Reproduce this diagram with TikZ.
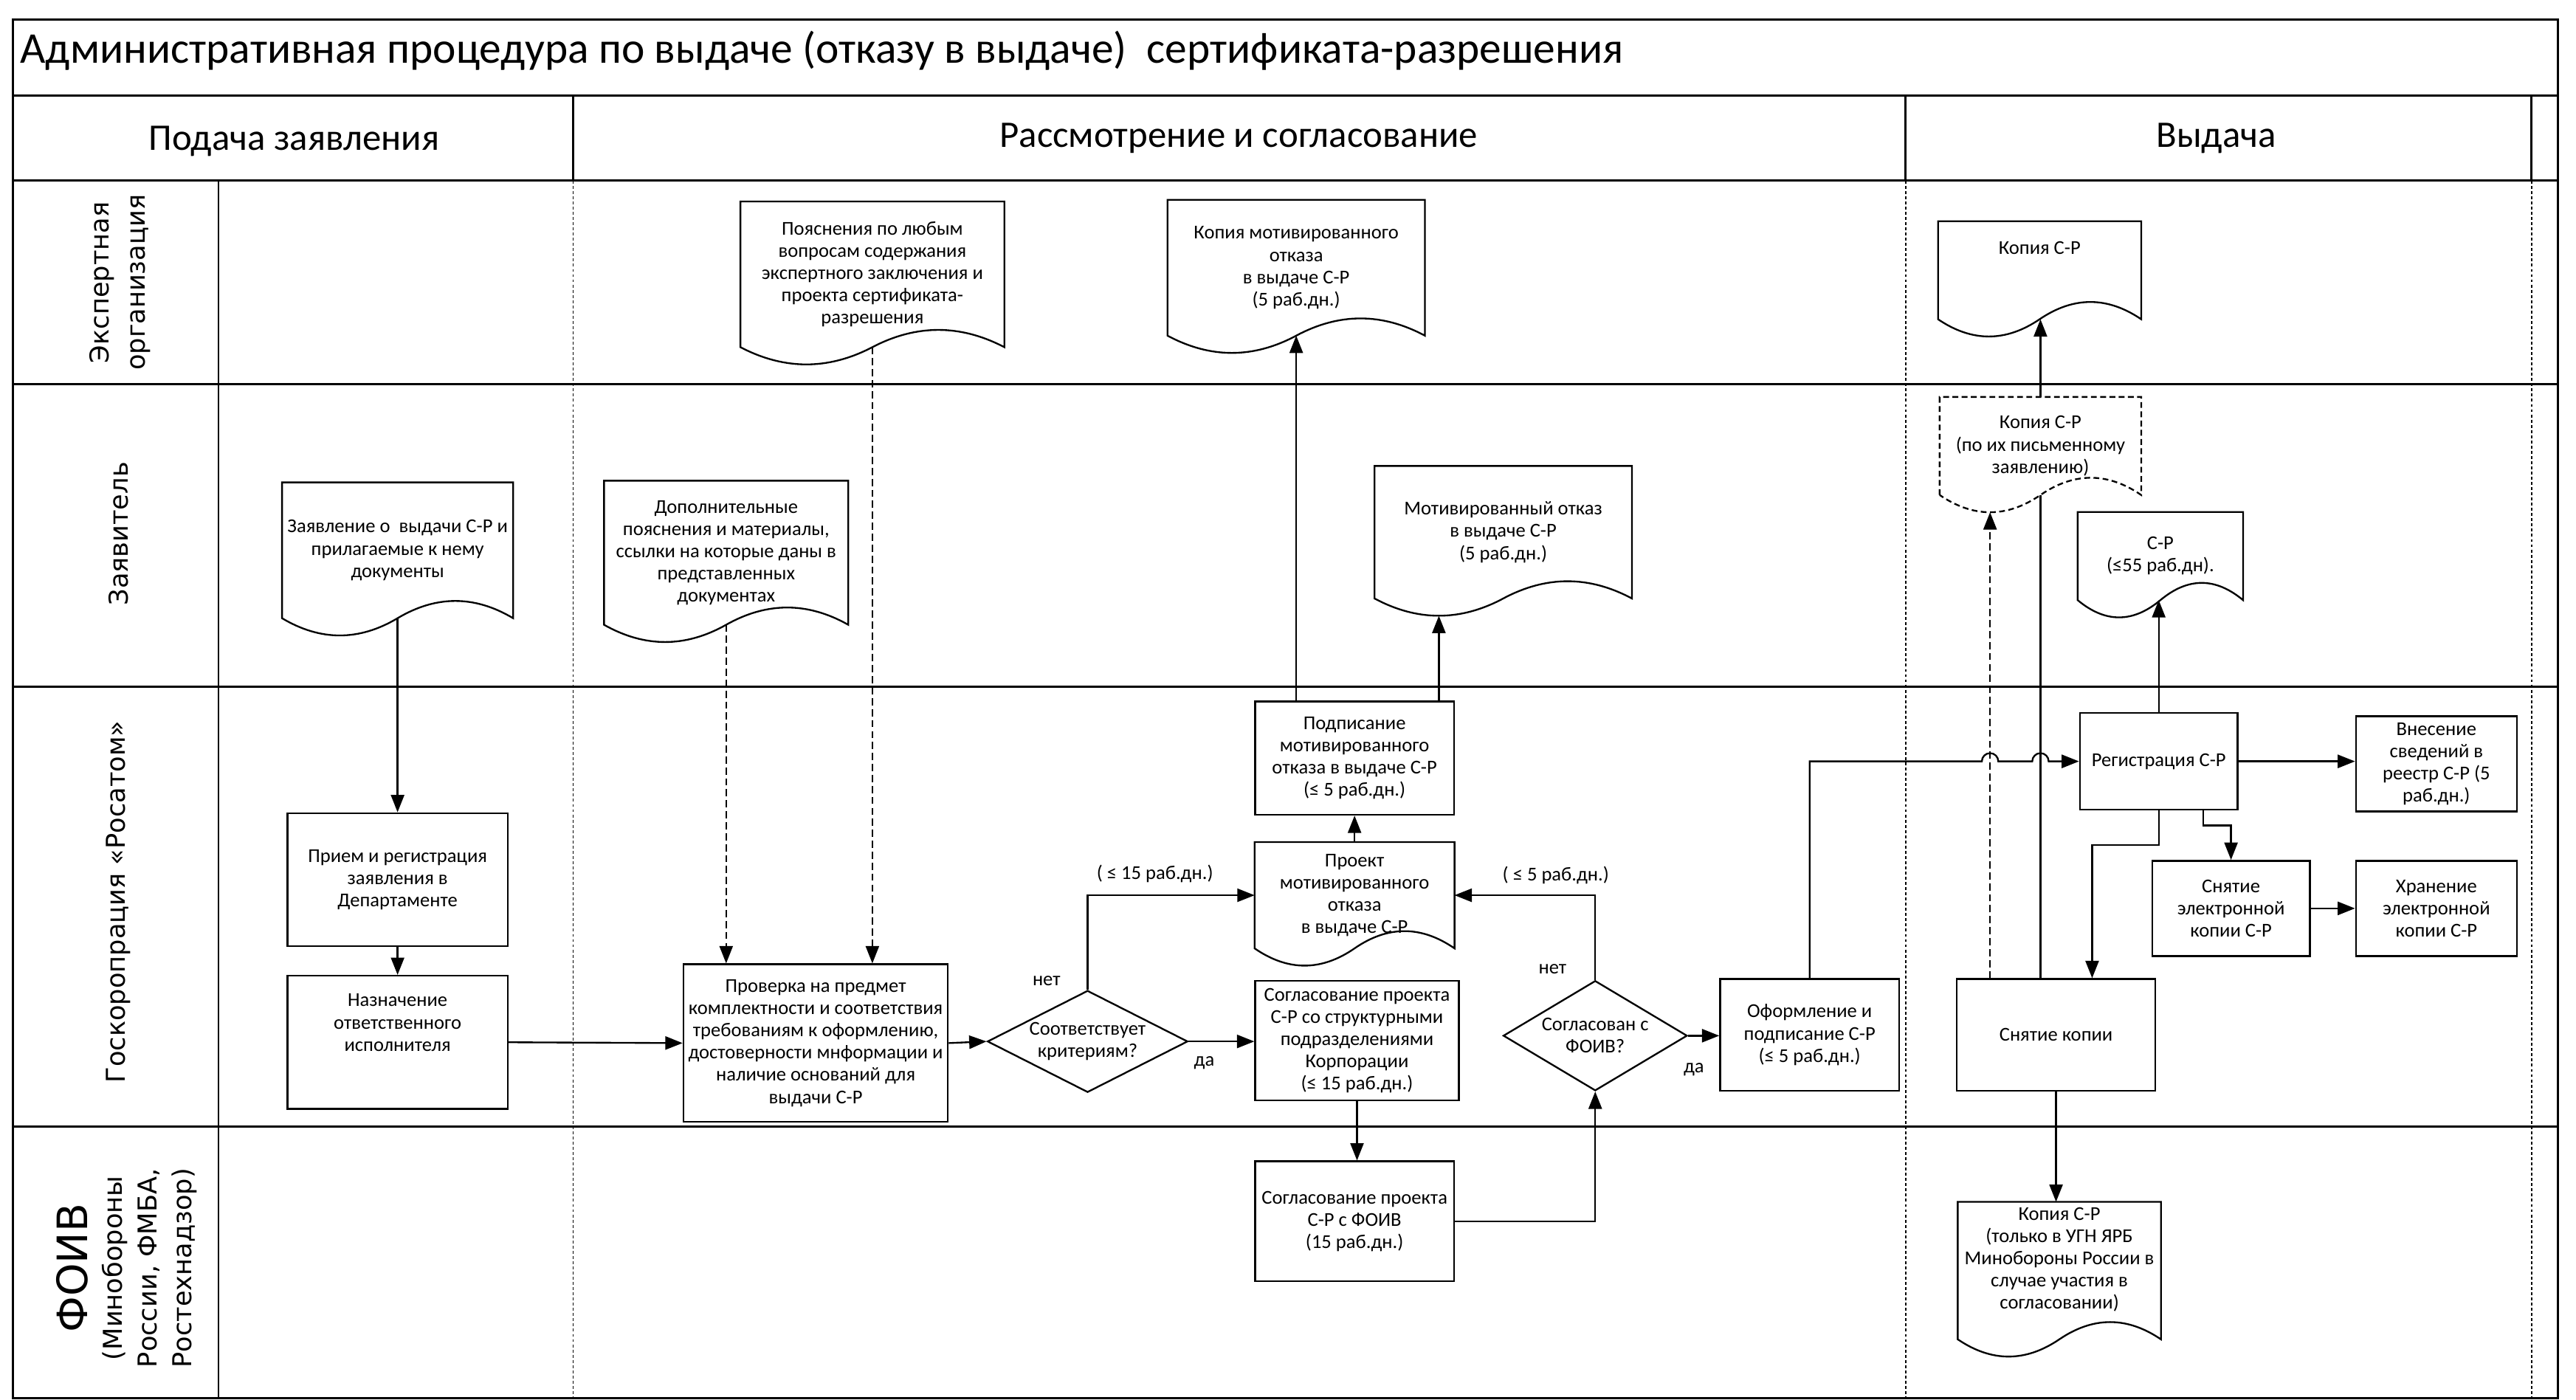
\documentclass[tikz,border=0pt]{standalone}
\usepackage{fontspec}
\setmainfont{Carlito}
\newfontfamily\lanefont{DejaVu Sans}
\usetikzlibrary{arrows.meta, calc, shapes.geometric}

\newcommand{\nodefont}{\fontsize{6.8}{7.7}\selectfont}

\tikzset{
  box/.style = {rectangle, draw, line width=0.6pt, fill=white, align=center, inner sep=1pt, font=\nodefont},
  doc/.style = {rectangle, align=center, inner sep=1pt, font=\nodefont},
  docline/.style = {line width=0.6pt},
  decision/.style = {diamond, draw, line width=0.6pt, align=center, inner sep=-1.5pt, font=\nodefont},
  flow/.style = {line width=0.6pt, -{Triangle[length=6pt,width=4.6pt]}},
  flowd/.style = {flow, dash pattern=on 2.5pt off 1.3pt},
  lbl/.style = {inner sep=0pt, font=\nodefont},
  lane/.style = {line width=0.75pt},
  phase/.style = {line width=0.3pt, dash pattern=on 1pt off 0.8pt},
  lanelabel/.style = {rotate=90, align=center, font=\lanefont\fontsize{9}{12.5}\selectfont},
  head/.style = {inner sep=0pt, font=\fontsize{13}{15}\selectfont},
}

% document shape: outline with a wavy bottom, drawn round a node
\newcommand{\docshape}[2][]{%
  \draw[docline,#1] (#2.south west) -- (#2.north west) -- (#2.north east) -- (#2.south east)
    .. controls ($(#2.south east)!0.1667!(#2.south west)+(0,-14)$) and ($(#2.south east)!0.3333!(#2.south west)+(0,-14)$) .. (#2.south)
    .. controls ($(#2.south east)!0.6667!(#2.south west)+(0,14)$) and ($(#2.south east)!0.8333!(#2.south west)+(0,14)$) .. (#2.south west) -- cycle ;%
}

\begin{document}
\begin{tikzpicture}[x=0.02cm, y=-0.02cm]
        \useasboundingbox (0,0) rectangle (1568,852) ;
        %
        \draw[lane] (8,12) rectangle (1557,851) ; %
        \draw[lane] (8,58) -- (1557,58) ; %
        \foreach \y in {110,234,418,686} \draw[lane] (8,\y) -- (1557,\y) ; %
        \draw[lane] (133,110) -- (133,851) ; %
        \foreach \x in {349,1160,1541} {\draw[lane] (\x,58) -- (\x,110) ; \draw[phase] (\x,110) -- (\x,851) ;} %
        %
        \node[inner sep=0pt, anchor=west, font=\fontsize{15.2}{17}\selectfont] (title) at (12,31) {Административная процедура по выдаче (отказу в выдаче)\ \ сертификата-разрешения} ; %
        \node[head] (h_podacha) at (179,86) {Подача заявления} ; %
        \node[head] (h_rassm) at (754,84) {Рассмотрение и согласование} ; %
        \node[head] (h_vydacha) at (1349,84) {Выдача} ; %
        %
        \node[lanelabel] (l_exp) at (73,172) {Экспертная\\организация} ; %
        \node[lanelabel] (l_zayav) at (72,325) {Заявитель} ; %
        \node[lanelabel] (l_gk) at (72,549) {Госкоропрация «Росатом»} ; %
        \node[lanelabel, font=\lanefont\fontsize{9}{12}\selectfont] (l_foiv) at (77,772) {{\fontsize{14.5}{12}\selectfont ФОИВ}\\(Минобороны\\России, ФМБА,\\Ростехнадзор)} ; %
        %
        \node[doc, minimum width=3.2cm, minimum height=1.76cm] (poyasn) at (531,167) {Пояснения по любым\\вопросам содержания\\экспертного заключения и\\проекта сертификата-\\разрешения} ; %
        \node[doc, minimum width=3.12cm, minimum height=1.64cm] (kopotk) at (789,163) {Копия мотивированного\\отказа\\в выдаче С-Р\\(5 раб.дн.)} ; %
        \node[doc, minimum width=2.46cm, minimum height=1.18cm] (kopiaE) at (1241.5,164.5) {Копия С-Р\\[8pt]} ; %
        \node[doc, minimum width=2.8cm, minimum height=1.64cm] (zayav) at (242,335) {Заявление о\ \ выдачи С-Р и\\прилагаемые к нему\\документы} ; %
        \node[doc, minimum width=2.96cm, minimum height=1.74cm] (dop) at (442,336.5) {Дополнительные\\пояснения и материалы,\\ссылки на которые даны в\\представленных\\документах} ; %
        \node[doc, minimum width=3.12cm, minimum height=1.6cm] (motiv) at (915,324) {Мотивированный отказ\\в выдаче С-Р\\(5 раб.дн.)} ; %
        \node[doc, minimum width=2.44cm, minimum height=1.18cm] (kopiaD) at (1242,271.5) {Копия С-Р\\(по их письменному\\заявлению)} ; %
        \node[doc, minimum width=2.0cm, minimum height=1.06cm] (sr) at (1315,338.5) {С-Р\\(≤55 раб.дн).} ; %
        %
        \node[box, minimum width=2.68cm, minimum height=1.62cm] (priem) at (242,535.5) {Прием и регистрация\\заявления в\\Департаменте} ; %
        \node[box, minimum width=2.68cm, minimum height=1.62cm] (naznach) at (242,634.5) {Назначение\\ответственного\\исполнителя\\[6pt]} ; %
        \node[box, minimum width=3.22cm, minimum height=1.92cm] (prov) at (496.5,635) {Проверка на предмет\\комплектности и соответствия\\требованиям к оформлению,\\достоверности мнформации и\\наличие оснований для\\выдачи С-Р} ; %
        \node[decision, aspect=2, minimum width=2.44cm, minimum height=1.24cm] (crit) at (662,634) {Соответствует\\критериям?} ; %
        \node[box, minimum width=2.48cm, minimum height=1.46cm] (soglstr) at (826,633.5) {Согласование проекта\\С-Р со структурными\\подразделениями\\Корпорации\\(≤ 15 раб.дн.)} ; %
        \node[doc, minimum width=2.42cm, minimum height=1.28cm] (proekt) at (824.5,545) {Проект\\мотивированного\\отказа\\в выдаче С-Р} ; %
        \node[box, minimum width=2.42cm, minimum height=1.38cm] (podp) at (824.5,461.5) {Подписание\\мотивированного\\отказа в выдаче С-Р\\(≤ 5 раб.дн.)} ; %
        \node[decision, aspect=1.67, minimum width=2.24cm, minimum height=1.34cm] (foivq) at (971,630.5) {Согласован с\\ФОИВ?} ; %
        \node[box, minimum width=2.18cm, minimum height=1.36cm] (oform) at (1101.5,630) {Оформление и\\подписание С-Р\\(≤ 5 раб.дн.)} ; %
        \node[box, minimum width=1.92cm, minimum height=1.18cm] (reg) at (1314,463.5) {Регистрация С-Р} ; %
        \node[box, minimum width=1.96cm, minimum height=1.16cm] (vnes) at (1483,465) {Внесение\\сведений в\\реестр С-Р (5\\раб.дн.)} ; %
        \node[box, minimum width=1.92cm, minimum height=1.16cm] (snel) at (1358,553) {Снятие\\электронной\\копии С-Р} ; %
        \node[box, minimum width=1.96cm, minimum height=1.16cm] (hran) at (1483,553) {Хранение\\электронной\\копии С-Р} ; %
        \node[box, minimum width=2.42cm, minimum height=1.36cm] (snyat) at (1251.5,630) {Снятие копии} ; %
        \node[box, minimum width=2.42cm, minimum height=1.46cm] (soglfoiv) at (824.5,743.5) {Согласование проекта\\С-Р с ФОИВ\\(15 раб.дн.)} ; %
        \node[doc, minimum width=2.46cm, minimum height=1.66cm] (kopiaF) at (1253.5,773.5) {Копия С-Р\\(только в УГН ЯРБ\\Минобороны России в\\случае участия в\\согласовании)\\[1pt]} ; %
        %
        \docshape{poyasn} \docshape{kopotk} \docshape{kopiaE} \docshape{zayav} %
        \docshape{dop} \docshape{motiv} \docshape{sr} \docshape{proekt} \docshape{kopiaF} %
        \docshape[dash pattern=on 2pt off 1.2pt]{kopiaD} %
        %
        \coordinate (kd_dip) at ($(kopiaD.south west)!0.25!(kopiaD.south east)+(0,10.5)$) ; %
        \coordinate (md_dip) at ($(motiv.south west)!0.25!(motiv.south east)+(0,10.5)$) ; %
        \coordinate (j_1) at (kd_dip |- reg.west) ; %
        \coordinate (j_2) at (kopiaD.south |- reg.west) ; %
        %
        \node[lbl] (no_1) at (637,597) {нет} ; %
        \node[lbl] (yes_1) at (733,647) {да} ; %
        \node[lbl] (t_15) at (703,532) {( ≤ 15 раб.дн.)} ; %
        \node[lbl] (no_2) at (945,590) {нет} ; %
        \node[lbl] (t_5) at (947,533) {( ≤ 5 раб.дн.)} ; %
        \node[lbl] (yes_2) at (1031,651) {да} ; %
        %
        \draw[flow] (zayav.south) -- (priem.north) ; %
        \draw[flow] (priem.south) -- (naznach.north) ; %
        \draw[flow] (naznach.east) -- (prov.west) ; %
        \draw[flowd] (dop.south) -- (dop.south |- prov.north) ; %
        \draw[flowd] (poyasn.south) -- (poyasn.south |- prov.north) ; %
        \draw[flow] (prov.east) -- (crit.west) ; %
        \draw[flow] (crit.east) -- (crit.east -| soglstr.west) ; %
        \draw[flow] (crit.north) |- (proekt.west) ; %
        \draw[flow] (proekt.north) -- (podp.south) ; %
        \draw[flow] (kopotk.south |- podp.north) -- (kopotk.south) ; %
        \draw[flow] (md_dip |- podp.north) -- (md_dip) ; %
        \draw[flow] (soglstr.south) -- (soglstr.south |- soglfoiv.north) ; %
        \draw[flow] (soglfoiv.east) -| (foivq.south) ; %
        \draw[flow] (foivq.north) |- (proekt.east) ; %
        \draw[flow] (foivq.east) -- (foivq.east -| oform.west) ; %
        \draw[flow] (oform.north) |- ([xshift=-0.1cm]j_1) arc[start angle=180, end angle=0, radius=0.1cm] -- ([xshift=-0.1cm]j_2) arc[start angle=180, end angle=0, radius=0.1cm] -- (reg.west) ; %
        \draw[flow] (reg.north) -- (reg.north |- sr.south) ; %
        \draw[flow] (reg.east) -- (reg.east -| vnes.west) ; %
        \draw[flow] ($(reg.south west)!0.78!(reg.south east)$) -- ++(0,9) -| (snel.north) ; %
        \draw[flow] (reg.south) -- ++(0,21) -| ($(snyat.north west)!0.68!(snyat.north east)$) ; %
        \draw[flow] (snel.east) -- (hran.west) ; %
        \draw[flowd] (kd_dip |- snyat.north) -- (kd_dip) ; %
        \draw[line width=0.6pt] (kopiaD.south |- snyat.north) -- (kopiaD.south) ; %
        \draw[flow] (kopiaD.north) -- (kopiaD.north |- kopiaE.south) ; %
        \draw[flow] (snyat.south) -- (snyat.south |- kopiaF.north) ; %
\end{tikzpicture}
\end{document}
